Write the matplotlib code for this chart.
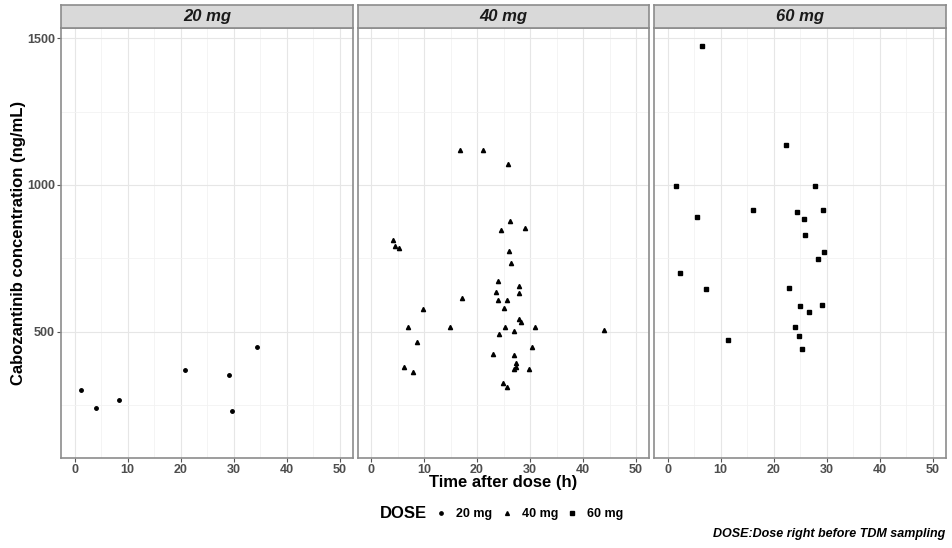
import matplotlib
matplotlib.use("Agg")
import matplotlib.pyplot as plt
from matplotlib.lines import Line2D
from matplotlib.ticker import MultipleLocator

plt.rcParams['font.family'] = ['Liberation Sans', 'DejaVu Sans']

# data (time after dose in h, concentration in ng/mL)
doses = ["20 mg", "40 mg", "60 mg"]
markers = ["o", "^", "s"]

time_20 = [1.2, 4.0, 8.4, 20.8, 29.2, 29.8, 34.4]
conc_20 = [300, 238, 267, 370, 351, 228, 447]

time_40 = [16.8, 21.2, 25.9, 26.2, 24.5, 29.1, 4.2, 4.6, 5.3, 26.0, 26.4,
           24.0, 23.5, 27.9, 27.9, 17.2, 24.0, 25.7, 25.0, 9.8, 27.9, 28.3,
           7.0, 14.9, 25.3, 31.0, 26.9, 43.9, 24.2, 8.7, 30.4, 23.0, 26.9,
           27.4, 6.3, 27.4, 26.9, 29.8, 8.0, 24.9, 25.7]
conc_40 = [1120, 1120, 1072, 877, 845, 853, 812, 792, 785, 773, 734,
           674, 636, 655, 631, 616, 608, 608, 580, 576, 542, 532,
           516, 515, 514, 514, 502, 506, 491, 464, 448, 422, 421,
           394, 378, 378, 372, 372, 361, 323, 311]

time_60 = [6.5, 22.4, 1.6, 27.9, 16.1, 29.3, 24.5, 5.6, 25.7, 26.0, 29.6,
           28.3, 2.3, 7.2, 23.0, 25.0, 29.1, 26.7, 24.0, 24.8, 11.4, 25.3]
conc_60 = [1472, 1135, 998, 998, 913, 914, 908, 891, 883, 828, 772,
           747, 700, 644, 649, 588, 591, 566, 514, 485, 471, 439]

times = [time_20, time_40, time_60]
concs = [conc_20, conc_40, conc_60]

W, H = 952, 548
fig = plt.figure(figsize=(W / 100, H / 100), dpi=100)

border = "#8c8c8c"
lefts = [61.3, 357.8, 654.3]
pw = 291.5
top, bottom, strip_top = 27.7, 457.7, 4.7

for i in range(3):
    ax = fig.add_axes([lefts[i] / W, 1 - bottom / H, pw / W, (bottom - top) / H])
    ax.plot(times[i], concs[i], linestyle="none", marker=markers[i],
            markersize=3.0 if markers[i] != "o" else 2.5, color="black")
    ax.set_xlim(-2.5, 52.5)
    ax.set_ylim(70, 1536)
    ax.xaxis.set_major_locator(MultipleLocator(10))
    ax.xaxis.set_minor_locator(MultipleLocator(5))
    ax.yaxis.set_major_locator(MultipleLocator(500))
    ax.yaxis.set_minor_locator(MultipleLocator(250))
    ax.grid(which="major", color="#e6e6e6", linewidth=0.8)
    ax.grid(which="minor", color="#f2f2f2", linewidth=0.6)
    ax.set_axisbelow(True)
    for s in ax.spines.values():
        s.set_color(border)
        s.set_linewidth(1.2)
    ax.tick_params(which="major", length=3, color="#555555",
                   labelsize=9, labelcolor="#4d4d4d", pad=1.5)
    ax.tick_params(which="minor", length=0)
    for lab in ax.get_xticklabels() + ax.get_yticklabels():
        lab.set_fontweight("bold")
    if i > 0:
        ax.tick_params(axis="y", which="both", left=False, labelleft=False)

    # facet strip
    st = fig.add_axes([lefts[i] / W, 1 - top / H, pw / W, (top - strip_top) / H])
    st.set_facecolor("#d9d9d9")
    st.set_xticks([])
    st.set_yticks([])
    for s in st.spines.values():
        s.set_color(border)
        s.set_linewidth(1.2)
    st.text(0.5, 0.48, doses[i], ha="center", va="center", fontsize=12,
            fontweight="bold", fontstyle="italic", color="#1a1a1a",
            transform=st.transAxes)

fig.text(19 / W, 1 - 243 / H, "Cabozantinib concentration (ng/mL)", rotation=90,
         ha="center", va="center", fontsize=12, fontweight="bold")
fig.text(503.5 / W, 1 - 483 / H, "Time after dose (h)", ha="center", va="center",
         fontsize=12, fontweight="bold")

fig.text(380 / W, 1 - 514 / H, "DOSE", ha="left", va="center",
         fontsize=12, fontweight="bold")
handles = [Line2D([], [], linestyle="none", marker=m, color="black",
                  markersize=2.8 if m != "o" else 2.4) for m in markers]
leg = fig.legend(handles, doses, ncol=3, loc="center left",
                 bbox_to_anchor=(433.5 / W, 1 - 514 / H), frameon=False,
                 handlelength=1.2, handletextpad=0.6, columnspacing=0.55,
                 borderaxespad=0, borderpad=0,
                 prop={"size": 9, "weight": "bold"})

fig.text(945 / W, 1 - 534 / H, "DOSE:Dose right before TDM sampling", ha="right",
         va="center", fontsize=9, fontweight="bold", fontstyle="italic")

fig.savefig("out.png", dpi=100)
